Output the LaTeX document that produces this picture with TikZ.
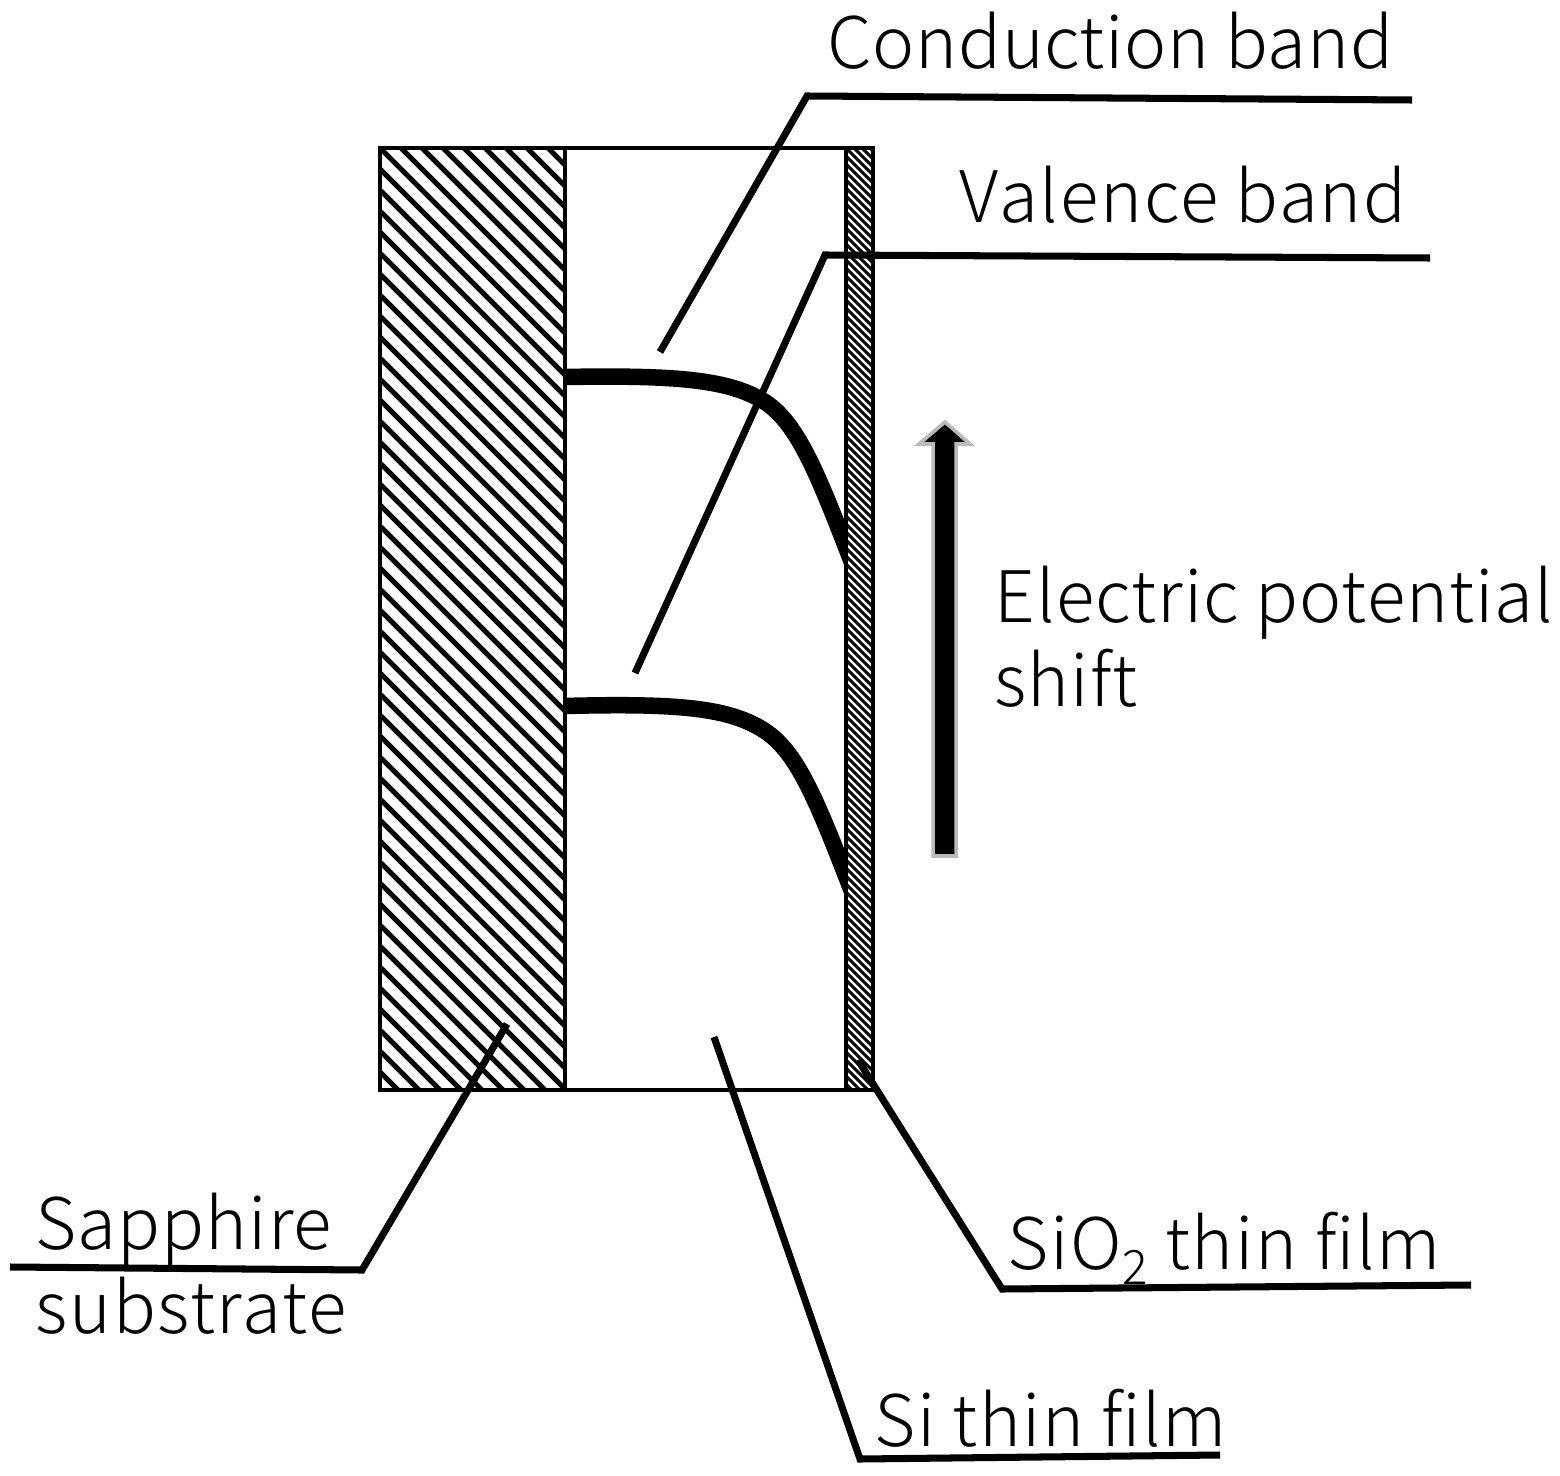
\documentclass[tikz,border=0pt]{standalone}
\usepackage{fontspec}
\setmainfont{Noto Sans CJK JP Light}
\usetikzlibrary{calc}

\def\substrate{(380,148) rectangle (565,1090)}
\def\sifilm{(565,148) rectangle (846,1090)}
\def\oxide{(846,148) rectangle (873,1090)}

\tikzset{
    lbl/.style={anchor=base west, inner sep=0pt, font=\fontsize{20.2pt}{20.2pt}\selectfont\addfontfeature{LetterSpace=#1}},
    lbl/.default=1.5,
    leader/.style={line width=2pt, line join=miter},
    band/.style={line width=4.7pt, line cap=butt},
    wall/.style={line width=1pt},
}

\begin{document}
\begin{tikzpicture}[x=0.01cm, y=-0.01cm]
    \useasboundingbox (0,0) rectangle (1560,1476);

    % Sapphire hatching
    \begin{scope}
        \clip \substrate;
        \foreach \i in {-50,...,30}
            \draw[line width=1.5pt] ({380+21*\i},148) -- ++(1000,1000);
    \end{scope}

    % SiO2 hatching
    \begin{scope}
        \clip \oxide;
        \foreach \i in {-130,...,10}
            \draw[line width=0.9pt] (846,{148-8*\i}) -- ++(40,40);
    \end{scope}

    % Bands
    \begin{scope}
        \clip \sifilm;
        \draw[band] (565,377) .. controls (680,375) and (730,380) .. (765,402)
                              .. controls (800,425) and (820,480) .. (858,578);
        \draw[band] (565,706) .. controls (680,703) and (730,708) .. (765,731)
                              .. controls (800,754) and (820,809) .. (858,907);
    \end{scope}

    \draw[wall] \substrate;
    \draw[wall] \sifilm;
    \draw[wall] \oxide;

    % Potential arrow
    \filldraw[draw=black!27, fill=black, line width=1pt]
        (945,422) -- (970,444) -- (956,444) -- (956,856) -- (933,856) -- (933,444) -- (919,444) -- cycle;

    % Conduction band
    \node[lbl=0.9] (cond) at (827,69) {Conduction band};
    \coordinate (condA) at (660,352);
    \coordinate (condB) at (807,96);
    \coordinate (condC) at (1412,100);
    \draw[leader] (condA) -- (condB) -- (condC);

    % Valence band
    \node[lbl=2.5] (val) at (959,222) {Valence band};
    \coordinate (valA) at (635,673);
    \coordinate (valB) at (825,255);
    \coordinate (valC) at (1430,258);
    \draw[leader] (valA) -- (valB) -- (valC);

    % Potential shift
    \node[lbl] (pot) at (994,622) {Electric potential};
    \node[lbl] (shift) at (994,706) {shift};

    % Sapphire substrate
    \node[lbl] (sap) at (35,1249) {Sapphire};
    \node[lbl=2.5] (sub) at (35,1333) {substrate};
    \coordinate (sapA) at (10,1267);
    \coordinate (sapB) at (362,1270);
    \coordinate (sapC) at (507,1024);
    \draw[leader] (sapA) -- (sapB) -- (sapC);

    % SiO2 film
    \node[lbl=2.5] (oxi) at (1007,1269) {SiO\raisebox{-0.15cm}{\fontsize{13.5pt}{13.5pt}\selectfont 2} thin film};
    \coordinate (oxiA) at (858,1060);
    \coordinate (oxiB) at (1002,1289);
    \coordinate (oxiC) at (1471,1285);
    \draw[leader] (oxiA) -- (oxiB) -- (oxiC);

    % Si film
    \node[lbl=2.1] (si) at (874,1446) {Si thin film};
    \coordinate (siA) at (714,1037);
    \coordinate (siB) at (860,1459);
    \coordinate (siC) at (1220,1455);
    \draw[leader] (siA) -- (siB) -- (siC);

\end{tikzpicture}
\end{document}
